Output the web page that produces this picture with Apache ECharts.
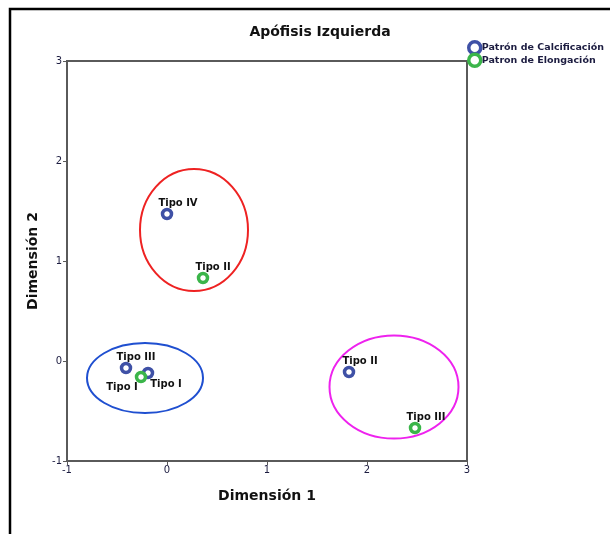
<!DOCTYPE html>
<html>
<head>
<meta charset="utf-8">
<script src="https://cdn.jsdelivr.net/npm/echarts@6/dist/echarts.min.js"></script>
<style>
  html, body { margin: 0; padding: 0; background: #fff; }
  #chart { width: 610px; height: 534px; }
</style>
</head>
<body>
<div id="chart"></div>
<script>
// Category points: Patrón de Calcificación
const calcNames = ['Tipo IV', 'Tipo III', 'Tipo I', 'Tipo II'];
const calcX = [0.00, -0.41, -0.19, 1.82];
const calcY = [1.47, -0.07, -0.12, -0.11];

// Category points: Patron de Elongación
const elongNames = ['Tipo II', 'Tipo I', 'Tipo III'];
const elongX = [0.36, -0.26, 2.48];
const elongY = [0.83, -0.16, -0.67];

// Axis ticks
const axisTicks = [-1, 0, 1, 2, 3];

// Group outlines in data units: centre x, centre y, half-width, half-height
const groupCx = [0.27, -0.22, 2.27];
const groupCy = [1.31, -0.17, -0.26];
const groupRx = [0.54, 0.58, 0.645];
const groupRy = [0.61, 0.35, 0.515];
const groupColors = ['#ee2222', '#1f4fd0', '#ee22ee'];

const FONT = '"DejaVu Sans", sans-serif';
const BLUE = '#3f51a6';
const GREEN = '#3bb54a';

// label placement around each marker (pixels)
const calcOffsets = [[11, -11], [10, -11], [18, 11], [11, -11]];
const elongOffsets = [[10, -11], [-19, 10], [11, -11]];

function buildPoints(xs, ys, names, offsets) {
  return xs.map((x, i) => ({
    name: names[i],
    value: [x, ys[i]],
    label: { offset: offsets[i] }
  }));
}

const pointLabel = {
  show: true,
  position: 'inside',
  formatter: p => p.name,
  fontFamily: FONT,
  fontSize: 10,
  fontWeight: 'bold',
  color: '#111'
};

const chart = echarts.init(document.getElementById('chart'));

const axisCommon = {
  type: 'value',
  min: axisTicks[0],
  max: axisTicks[axisTicks.length - 1],
  interval: 1,
  splitLine: { show: false },
  axisLine: { show: true, onZero: false, lineStyle: { color: '#5a5a5a', width: 2 } },
  axisTick: { show: true, inside: false, length: 4, lineStyle: { color: '#5a5a5a', width: 1 } },
  axisLabel: { color: '#1c1c40', fontFamily: FONT, fontSize: 10 },
  nameLocation: 'middle',
  nameTextStyle: { fontFamily: FONT, fontSize: 14, fontWeight: 'bold', color: '#111' }
};

chart.setOption({
  animation: false,
  title: {
    text: 'Apófisis Izquierda',
    left: 315,
    textAlign: 'center',
    top: 20,
    textStyle: { fontFamily: FONT, fontSize: 14, fontWeight: 'bold', color: '#111' }
  },
  legend: {
    orient: 'vertical',
    left: 467,
    top: 40,
    padding: 0,
    itemWidth: 12,
    itemHeight: 12,
    itemGap: -3,
    itemStyle: { borderWidth: 3.5 },
    textStyle: { fontFamily: FONT, fontSize: 9.5, fontWeight: 'bold', color: '#1c1c40', lineHeight: 11, padding: [0, 0, 0, -4] },
    data: ['Patrón de Calcificación', 'Patron de Elongación']
  },
  grid: {
    left: 67, top: 61, width: 400, height: 400,
    show: true, borderColor: '#5a5a5a', borderWidth: 2, backgroundColor: 'transparent'
  },
  xAxis: Object.assign({}, axisCommon, {
    name: 'Dimensión 1',
    nameGap: 28,
    axisLabel: Object.assign({}, axisCommon.axisLabel, { margin: 4 })
  }),
  yAxis: Object.assign({}, axisCommon, {
    name: 'Dimensión 2',
    nameGap: 27,
    axisLabel: Object.assign({}, axisCommon.axisLabel, { margin: 5 })
  }),
  series: [
    {
      name: 'Patrón de Calcificación',
      type: 'scatter',
      symbol: 'circle',
      symbolSize: 9,
      itemStyle: { color: '#fff', borderColor: BLUE, borderWidth: 3.5, opacity: 1 },
      label: pointLabel,
      data: buildPoints(calcX, calcY, calcNames, calcOffsets),
      z: 5
    },
    {
      name: 'Patron de Elongación',
      type: 'scatter',
      symbol: 'circle',
      symbolSize: 9,
      itemStyle: { color: '#fff', borderColor: GREEN, borderWidth: 3.5, opacity: 1 },
      label: pointLabel,
      data: buildPoints(elongX, elongY, elongNames, elongOffsets),
      z: 5
    }
  ]
});

// Outline each group with an ellipse placed through the axis scales,
// plus the frame lines along the top and left edges.
function drawOverlays() {
  const shapes = groupCx.map((cx, i) => {
    const c = chart.convertToPixel({ gridIndex: 0 }, [cx, groupCy[i]]);
    const e = chart.convertToPixel({ gridIndex: 0 }, [cx + groupRx[i], groupCy[i] + groupRy[i]]);
    return {
      type: 'ellipse',
      z: 3,
      silent: true,
      shape: { cx: c[0], cy: c[1], rx: Math.abs(e[0] - c[0]), ry: Math.abs(c[1] - e[1]) },
      style: { fill: 'none', stroke: groupColors[i], lineWidth: 2 }
    };
  });
  shapes.push({
    type: 'polyline', z: 10, silent: true,
    shape: { points: [[10, 534], [10, 9], [610, 9]] },
    style: { fill: 'none', stroke: '#000', lineWidth: 2.5 }
  });
  chart.setOption({ graphic: shapes });
}
drawOverlays();
</script>
</body>
</html>
